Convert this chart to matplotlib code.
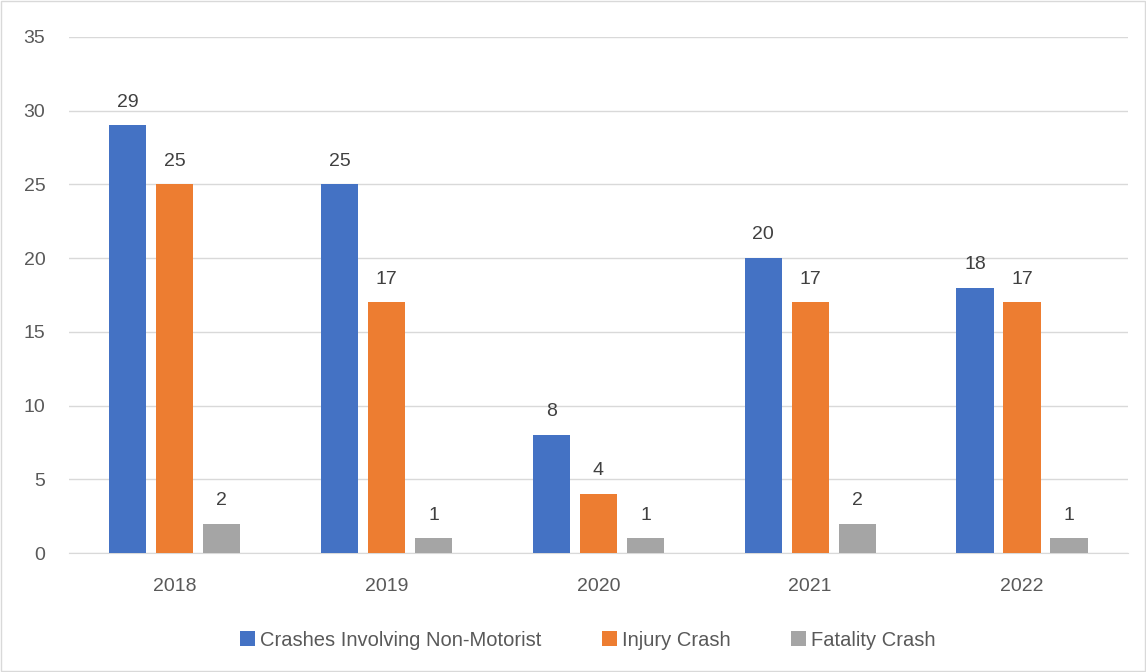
import numpy as np
import matplotlib.pyplot as plt

years = ['2018', '2019', '2020', '2021', '2022']
non_motorist = [29, 25, 8, 20, 18]
injury = [25, 17, 4, 17, 17]
fatality = [2, 1, 1, 2, 1]

series = [
    ('Crashes Involving Non-Motorist', non_motorist, '#4472C4'),
    ('Injury Crash', injury, '#ED7D31'),
    ('Fatality Crash', fatality, '#A5A5A5'),
]

plt.rcParams['font.family'] = ['Liberation Sans', 'DejaVu Sans']

fig = plt.figure(figsize=(11.46, 6.72), dpi=100)
ax = fig.add_axes([0.0602, 0.177, 0.924, 0.768])

x = np.arange(len(years))
width = 0.175
step = 0.222
for k, (name, vals, col) in enumerate(series):
    pos = x + (k - 1) * step
    bars = ax.bar(pos, vals, width, color=col, label=name, zorder=3)
    for b, v in zip(bars, vals):
        ax.text(b.get_x() + b.get_width() / 2, v + 1.0, str(v),
                ha='center', va='bottom', fontsize=14, color='#404040')

ax.set_xlim(-0.5, 4.5)
ax.set_ylim(0, 35)
ax.set_yticks(range(0, 36, 5))
ax.set_xticks(x)
ax.set_xticklabels(years)
ax.yaxis.grid(True, color='#D9D9D9', linewidth=1, zorder=0)
for s in ['top', 'right', 'left']:
    ax.spines[s].set_visible(False)
ax.spines['bottom'].set_color('#D9D9D9')
ax.tick_params(axis='both', length=0, labelsize=14, colors='#595959')
ax.tick_params(axis='x', pad=18)
ax.tick_params(axis='y', pad=17)

ax.legend(loc='upper center', bbox_to_anchor=(0.49, -0.115), ncol=3, frameon=False,
          fontsize=14.5, handlelength=0.75, handleheight=0.8, handletextpad=0.25,
          columnspacing=3.0, labelcolor='#595959')

fig.patches.append(plt.Rectangle((0.0005, 0.001), 0.999, 0.998, transform=fig.transFigure,
                                 fill=False, edgecolor='#D9D9D9', linewidth=1))

fig.savefig('out.png', dpi=100)
